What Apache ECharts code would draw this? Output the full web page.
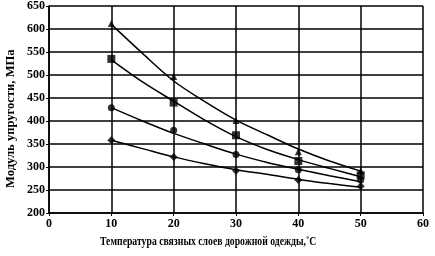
<!DOCTYPE html>
<html><head><meta charset="utf-8">
<script src="https://cdn.jsdelivr.net/npm/echarts@6/dist/echarts.min.js"></script>
<style>html,body{margin:0;padding:0;background:#fff}#c{width:435px;height:256px}</style>
</head><body><div id="c"></div>
<script>
var temps = [10, 20, 30, 40, 50];
// measured points
var triPts = [612, 497, 401, 333, 292];
var sqPts = [535, 440, 369, 313, 282];
var cirPts = [429, 380, 327, 294, 272];
var diaPts = [358, 322, 292, 272, 258];
// fitted curves
var fitT = [10, 15, 20, 25, 30, 35, 40, 45, 50];
var triFit = [610, 547, 487, 442, 402, 370, 339, 313, 291];
var sqFit = [533, 485, 443, 402, 366, 338, 316, 297, 279];
var cirFit = [429, 400, 373, 350, 328, 310, 295, 281, 268];
var diaFit = [358, 340, 322, 307, 294, 284, 273, 264, 256];
var xTicks = [0, 10, 20, 30, 40, 50, 60];
var yTicks = [200, 250, 300, 350, 400, 450, 500, 550, 600, 650];

function pairs(xs, v){ return xs.map(function(t,i){ return [t, v[i]]; }); }
var font = 'Liberation Serif';
function line(v){
  return {type:'line', data:pairs(fitT, v), smooth:0.3, symbol:'none',
    lineStyle:{color:'#000', width:1.5}, z:3, silent:true};
}
function pts(v, sym, size){
  return {type:'scatter', data:pairs(temps, v), symbol:sym, symbolSize:size,
    itemStyle:{color:'#000'}, z:4, silent:true};
}
var chart = echarts.init(document.getElementById('c'));
chart.setOption({
  animation:false,
  grid:{left:49, right:12, top:6, bottom:43, containLabel:false, outerBoundsMode:'none'},
  xAxis:{type:'value', min:0, max:60, interval:10,
    axisLine:{show:true, lineStyle:{color:'#000', width:1.5}},
    axisTick:{show:true, length:3, lineStyle:{color:'#000'}},
    axisLabel:{color:'#000', fontFamily:font, fontSize:12, fontWeight:'bold', margin:5},
    splitLine:{show:true, lineStyle:{color:'#000', width:1.5}}},
  yAxis:{type:'value', min:200, max:650, interval:50,
    axisLine:{show:true, lineStyle:{color:'#000', width:1.5}},
    axisTick:{show:true, length:3, lineStyle:{color:'#000'}},
    axisLabel:{color:'#000', fontFamily:font, fontSize:12, fontWeight:'bold', margin:4},
    splitLine:{show:true, lineStyle:{color:'#000', width:1.5}}},
  graphic:[
    {type:'text', x:100, y:236, scaleX:0.81, originX:0, originY:0,
      style:{text:'Температура связных слоев дорожной одежды,˚С', fill:'#000',
        font:'bold 12px "Liberation Serif"'}},
    {type:'text', x:5, y:188, rotation:Math.PI/2, scaleX:1.05, originX:0, originY:0,
      style:{text:'Модуль упругости, МПа', fill:'#000',
        font:'bold 12px "Liberation Serif"', verticalAlign:'top'}}
  ],
  series:[
    line(triFit), line(sqFit), line(cirFit), line(diaFit),
    pts(triPts, 'triangle', 7), pts(sqPts, 'rect', 8),
    pts(cirPts, 'circle', 7), pts(diaPts, 'diamond', 8)
  ]
});
</script></body></html>
